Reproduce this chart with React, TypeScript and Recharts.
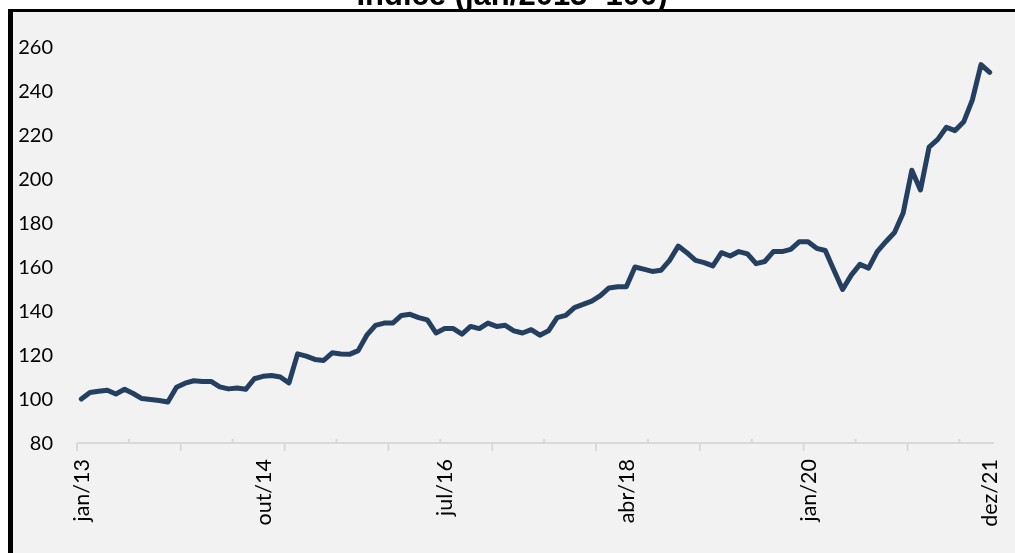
import React from "react";
import { LineChart, Line, XAxis, YAxis } from "recharts";

// Índice (jan/2013=100) — monthly values, jan/13 .. dez/21
const values: number[] = [
  100, 103, 103.5, 104, 102.3, 104.4, 102.5, 100.2, 99.8, 99.3,
  98.6, 105.3, 107.2, 108.3, 108, 108, 105.5, 104.6, 105, 104.4,
  109.2, 110.3, 110.7, 110, 107.3,
  120.5, 119.5, 118, 117.5, 121, 120.5, 120.3, 122, 129, 133.5,
  134.5, 134.5, 138, 138.5, 137, 136, 130, 132, 132, 129.5,
  133, 132, 134.5, 133, 133.5, 131, 130, 131.5, 129, 131,
  137, 138, 141.5, 143, 144.5, 147, 150.5, 151, 151, 160,
  159, 158, 158.5, 163, 169.5, 166.5, 163, 162, 160.5, 166.5,
  165, 167, 166, 161.5, 162.5, 167, 167, 168,
  171.5, 171.5, 168.5, 167.5, 158.5, 149.8, 156.3, 161.2, 159.5, 167,
  171.5, 175.7, 184.5, 204, 195, 214.5, 218, 223.5, 222, 226,
  236, 252, 248.5,
];

const labelIndices: number[] = [0, 21, 42, 63, 84, 105];
const tickLabels: string[] = ["jan/13", "out/14", "jul/16", "abr/18", "jan/20", "dez/21"];
const yTicks: number[] = [80, 100, 120, 140, 160, 180, 200, 220, 240, 260];
const markStep = 6;
const markCount = 18;

const data = values.map((v, i) => ({ i, v }));
const markPositions = Array.from({ length: markCount }, (_, k) => -0.5 + k * markStep);
const xTicks = [...markPositions, ...labelIndices].sort((a, b) => a - b);

const AXIS_FONT = "Lato, 'Open Sans', sans-serif";

const XTick = (props: any) => {
  const { x, y, payload } = props;
  const v = payload.value;
  const li = labelIndices.indexOf(v);
  if (li >= 0) {
    return (
      <text
        transform={`translate(${x},${y + 16}) rotate(-90)`}
        textAnchor="end"
        dy="0.36em"
        fontFamily={AXIS_FONT}
        fontSize={21.5}
        fill="#000"
      >
        {tickLabels[li]}
      </text>
    );
  }
  const k = Math.round((v + 0.5) / markStep);
  if (k % 2 === 0) {
    return <line x1={x} x2={x} y1={y} y2={y + 8} stroke="#d9d9d9" strokeWidth={2} />;
  }
  return <line x1={x} x2={x} y1={y - 4} y2={y} stroke="#d9d9d9" strokeWidth={2} />;
};

export default function App() {
  return (
    <div style={{ position: "fixed", left: 8, top: 0, width: 1007, height: 553, overflow: "hidden" }}>
      <svg width={1007} height={553} style={{ position: "absolute", left: 0, top: 0 }}>
        <text
          x={504}
          y={5}
          textAnchor="middle"
          fontFamily="'Liberation Sans', Arial, sans-serif"
          fontWeight="bold"
          fontSize={31}
          fill="#000"
        >
          Índice (jan/2013=100)
        </text>
        <rect x={0} y={9} width={1007} height={544} fill="#f2f2f2" />
        <rect x={0} y={9} width={5} height={544} fill="#000" />
        <rect x={0} y={9} width={1007} height={3} fill="#000" />
      </svg>
      <div style={{ position: "absolute", left: 0, top: 0 }}>
        <LineChart
          width={1007}
          height={553}
          data={data}
          margin={{ top: 47, right: 21, bottom: 0, left: 0 }}
        >
          <XAxis
            dataKey="i"
            type="number"
            domain={[-0.5, 105.5]}
            ticks={xTicks}
            interval={0}
            tick={<XTick />}
            tickLine={false}
            tickSize={0}
            tickMargin={0}
            axisLine={{ stroke: "#d9d9d9", strokeWidth: 2 }}
            height={110}
          />
          <YAxis
            type="number"
            domain={[80, 260]}
            ticks={yTicks}
            interval={0}
            axisLine={false}
            tickLine={false}
            tickSize={0}
            tickMargin={24}
            width={69}
            tick={{ fontFamily: AXIS_FONT, fontSize: 20, fill: "#000" }}
          />
          <Line
            dataKey="v"
            type="linear"
            stroke="#243f60"
            strokeWidth={5}
            strokeLinejoin="round"
            strokeLinecap="round"
            dot={false}
            isAnimationActive={false}
          />
        </LineChart>
      </div>
    </div>
  );
}
